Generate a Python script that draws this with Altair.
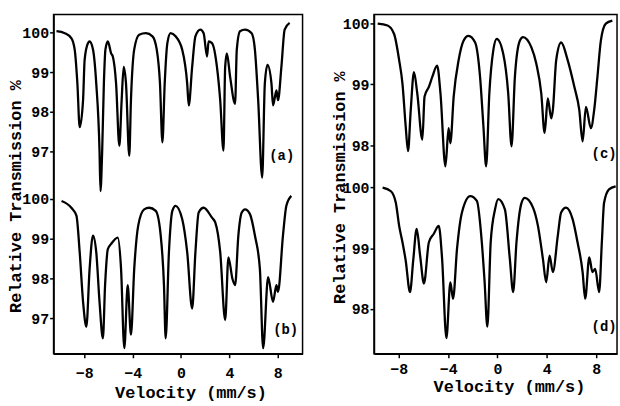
import altair as alt
import pandas as pd

# ---- data (velocity mm/s, relative transmission %) ----
va = [-10.30, -9.61, -9.06, -8.79, -8.57, -8.38, -8.10, -7.97, -7.69, -7.56, -7.28, -7.01, -6.74, -6.66,
      -6.52, -6.38, -6.25, -6.05, -5.78, -5.64, -5.37, -5.10, -4.91, -4.74, -4.55, -4.28, -4.14, -3.87,
      -3.46, -2.91, -2.36, -2.01, -1.74, -1.54, -1.35, -1.13, -0.86, -0.45, 0.10, 0.51, 0.64, 0.92, 1.19,
      1.60, 1.87, 2.15, 2.28, 2.56, 2.97, 3.24, 3.51, 3.65, 3.79, 4.06, 4.47, 4.61, 4.88, 5.29, 5.84,
      6.11, 6.38, 6.71, 6.93, 7.15, 7.48, 7.61, 7.89, 8.02, 8.30, 8.57, 8.98]
ta = [100.03, 99.98, 99.85, 99.56, 98.71, 97.61, 98.30, 99.31, 99.73, 99.77, 99.57, 98.71, 97.02, 96.00,
      97.02, 98.71, 99.57, 99.77, 99.47, 99.39, 98.71, 97.14, 98.29, 99.13, 98.71, 96.89, 98.30, 99.57,
      99.94, 99.98, 99.90, 99.57, 98.71, 97.23, 98.71, 99.73, 99.98, 99.90, 99.56, 98.71, 98.16, 99.13, 99.90,
      100.07, 99.98, 99.39, 99.77, 99.73, 99.13, 98.29, 97.02, 99.13, 99.47, 98.88, 98.20, 99.56, 100.03, 100.07, 99.98,
      99.56, 98.29, 96.34, 98.71, 99.18, 98.71, 98.16, 98.54, 98.29, 99.13, 100.07, 100.24]

vb = [-9.88, -9.07, -8.65, -8.38, -8.10, -7.83, -7.56, -7.28, -7.01, -6.74, -6.46, -6.28, -6.05, -5.78,
      -5.23, -4.96, -4.69, -4.41, -4.14, -3.87, -3.54, -3.05, -2.64, -2.09, -1.68, -1.41, -1.27, -1.00,
      -0.72, -0.45, 0.10, 0.51, 0.92, 1.19, 1.46, 1.87, 2.56, 2.83, 3.24, 3.65, 3.92, 4.25, 4.47, 4.74,
      5.02, 5.29, 5.70, 6.11, 6.52, 6.79, 7.20, 7.61, 7.89, 8.02, 8.43, 8.71, 9.12]
tb = [99.95, 99.78, 99.58, 98.66, 97.41, 96.78, 98.24, 99.08, 98.66, 97.41, 96.49, 97.83, 98.74, 98.87,
      99.03, 98.24, 96.24, 97.83, 96.58, 98.24, 99.33, 99.74, 99.78, 99.70, 99.08, 97.83, 96.49, 98.66,
      99.70, 99.83, 99.49, 98.66, 97.24, 98.66, 99.66, 99.78, 99.53, 99.41, 98.66, 96.95, 98.53, 97.99, 97.83, 99.08,
      99.66, 99.74, 99.62, 99.08, 98.24, 96.24, 98.03, 97.41, 97.83, 97.66, 99.08, 99.83, 100.08]

vc = [-9.71, -8.91, -8.38, -7.97, -7.70, -7.44, -7.25, -7.03, -6.77, -6.50, -6.09, -5.91, -5.56, -5.29,
      -4.89, -4.62, -4.22, -3.96, -3.82, -3.55, -3.15, -2.75, -2.35, -1.81, -1.41, -1.14, -0.92, -0.66,
      -0.34, -0.06, 0.47, 0.87, 1.14, 1.41, 1.81, 2.07, 2.75, 3.15, 3.55, 3.82, 4.08, 4.36, 4.49, 4.76,
      5.16, 5.69, 6.23, 6.63, 6.90, 7.17, 7.57, 7.84, 8.10, 8.38, 8.78, 9.31]
tc = [100.00, 99.97, 99.83, 99.40, 99.01, 98.31, 97.90, 98.58, 99.20, 98.85, 98.09, 98.80, 98.96, 99.12,
      99.31, 98.85, 97.65, 98.28, 98.03, 98.80, 99.40, 99.72, 99.80, 99.69, 99.12, 98.31, 97.65, 98.85,
      99.56, 99.75, 99.50, 98.85, 97.98, 99.12, 99.72, 99.78, 99.61, 99.34, 98.85, 98.20, 98.77, 98.44, 98.58, 99.40,
      99.69, 99.40, 98.96, 98.58, 98.06, 98.63, 98.28, 98.58, 99.12, 99.72, 100.00, 100.05]

vd = [-9.31, -8.64, -8.24, -7.97, -7.70, -7.44, -7.09, -6.83, -6.55, -6.27, -5.96, -5.56, -5.16, -4.76,
      -4.49, -4.14, -3.82, -3.60, -3.28, -2.88, -2.21, -1.67, -1.27, -1.05, -0.82, -0.55, -0.20, 0.06,
      0.60, 1.00, 1.27, 1.54, 1.95, 2.21, 2.88, 3.28, 3.68, 3.95, 4.22, 4.49, 4.89, 5.16, 5.56, 6.09,
      6.49, 6.90, 7.11, 7.44, 7.70, 7.92, 8.24, 8.46, 8.64, 9.04, 9.58]
td = [100.00, 99.94, 99.75, 99.37, 99.10, 98.80, 98.28, 98.80, 99.32, 98.88, 98.42, 99.10, 99.24, 99.37,
      98.83, 97.52, 98.44, 98.17, 98.99, 99.59, 99.86, 99.78, 99.10, 98.47, 97.71, 99.10, 99.64, 99.81,
      99.64, 98.83, 98.28, 99.10, 99.75, 99.83, 99.67, 99.37, 98.83, 98.44, 98.88, 98.61, 99.21, 99.59, 99.67, 99.48,
      99.10, 98.61, 98.17, 98.85, 98.61, 98.66, 98.28, 99.10, 99.75, 99.97, 100.02]

left_labels = ["(a)", "(b)"]
left_label_v = [8.33, 8.65]
left_label_t = [96.88, 96.70]
right_labels = ["(c)", "(d)"]
right_label_v = [8.64, 8.64]
right_label_t = [97.85, 97.70]

x_ticks = [-8, -4, 0, 4, 8]

FONT = "Liberation Mono"


def column(vt, tt, vbm, tbm, labs, lab_v, lab_t, offset, thresh, ydom, xdom, yvals,
           width, height, ytx, yty, xtx, xty, xlabpad):
    df = pd.concat([
        pd.DataFrame({"v": vt, "T": tt, "panel": "top"}),
        pd.DataFrame({"v": vbm, "T": tbm, "panel": "bottom"}),
    ])
    ldf = pd.DataFrame({"v": lab_v, "T": lab_t, "label": labs,
                        "panel": ["top", "bottom"]})
    calc = f"datum.T + (datum.panel == 'top' ? {offset} : 0)"
    xenc = alt.X("v:Q", scale=alt.Scale(domain=xdom, nice=False, zero=False),
                 axis=alt.Axis(values=x_ticks, title="Velocity (mm/s)", grid=False,
                               labelFlush=False, labelOverlap=False, tickSize=4,
                               labelPadding=xlabpad, titleX=xtx, titleY=xty,
                               titleAlign="center", titleBaseline="middle"))
    yenc = alt.Y("yc:Q", scale=alt.Scale(domain=ydom, nice=False, zero=False),
                 axis=alt.Axis(values=yvals, grid=False, labelFlush=False, labelOverlap=False,
                               labelExpr=f"datum.value > {thresh} ? format(datum.value - {offset}, '.0f') : format(datum.value, '.0f')",
                               title="Relative Transmission %", tickSize=4, labelPadding=1,
                               titleX=ytx, titleY=yty, titleAlign="center",
                               titleBaseline="middle", titleAngle=-90))
    line = alt.Chart(df).transform_calculate(yc=calc).mark_line(
        color="black", strokeWidth=2.3, interpolate="monotone", clip=True
    ).encode(x=xenc, y=yenc, detail="panel:N", order="v:Q")
    text = alt.Chart(ldf).transform_calculate(yc=calc).mark_text(
        font=FONT, fontSize=14, fontWeight="bold", color="black"
    ).encode(x=xenc, y=yenc, text="label:N")
    return alt.layer(line, text).properties(width=width, height=height)


left = column(va, ta, vb, tb, left_labels, left_label_v, left_label_t,
              4.2, 100.5, [96.1, 104.65], [-10.54, 10.05],
              [97, 98, 99, 100, 101.2, 102.2, 103.2, 104.2],
              251, 342, -38, 183, 138, 39, 8)
right = column(vc, tc, vd, td, right_labels, right_label_v, right_label_t,
               2.7, 100.3, [97.263, 102.851], [-10.01, 9.69],
               [98, 99, 100, 100.7, 101.7, 102.7],
               245, 342, -35, 174, 136, 33, 4)

chart = alt.hconcat(left, right, spacing=26).properties(
    padding={"left": 6, "top": 12, "right": 2, "bottom": 2},
    background="white",
).configure_view(stroke="black", strokeWidth=1.5).configure_axis(
    domainColor="black", domainWidth=1.5, tickColor="black", tickWidth=1.5,
    labelFont=FONT, labelFontSize=15, labelFontWeight="bold", labelColor="black",
    titleFont=FONT, titleFontSize=17, titleFontWeight="bold", titleColor="black",
)

chart.save("out.html", embed_options={"renderer": "svg", "actions": False})
